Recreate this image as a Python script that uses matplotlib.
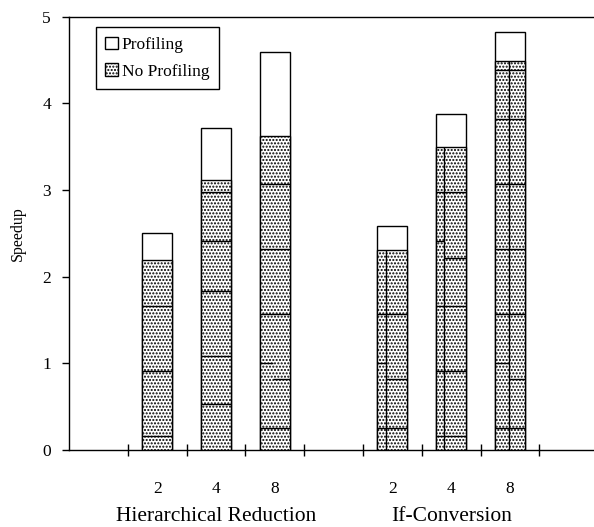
import numpy as np
import matplotlib
matplotlib.use("Agg")
import matplotlib.pyplot as plt
from matplotlib.patches import Patch

plt.rcParams['font.family'] = ['Liberation Serif', 'DejaVu Serif']
plt.rcParams['hatch.linewidth'] = 1.0

#%% data
groups = ["Hierarchical Reduction", "If-Conversion"]
procs = ["2", "4", "8"]

profiling = [2.50, 3.71, 4.59, 2.59, 3.88, 4.82]
no_profiling = [2.19, 3.12, 3.62, 2.31, 3.50, 4.49]

# internal segment boundaries drawn inside the No Profiling part
full_lines = [[0.16, 0.91, 1.66],
              [0.53, 1.09, 1.84, 2.41, 2.98],
              [0.25, 1.57, 2.32, 3.07],
              [0.25, 1.57],
              [0.16, 0.91, 1.66, 2.98],
              [0.25, 1.57, 2.32, 3.07, 3.82, 4.39]]
left_lines = [[], [], [1.00], [1.00], [2.41], [1.00]]
right_lines = [[], [], [0.82], [0.82], [2.22], [0.82]]
split = [None, None, 0.44, 0.30, 0.25, 0.47]
divider = [False, False, False, True, True, True]

#%% plot
BAR_W = 0.51
pos = np.array([1, 2, 3, 5, 6, 7])

fig = plt.figure(figsize=(5.94, 5.27), dpi=100)
ax = fig.add_axes([69/594, 77/527, 1 - 69/594, (450 - 16.7)/527])

ax.bar(pos, profiling, width=BAR_W, color='white', edgecolor='black', linewidth=1.0, zorder=2)
ax.bar(pos, no_profiling, width=BAR_W, color='white', edgecolor='black', linewidth=1.0,
       hatch='.....', zorder=3)

for i, p in enumerate(pos):
    x0 = p - BAR_W / 2
    x1 = p + BAR_W / 2
    ax.hlines(full_lines[i], x0, x1, colors='black', linewidth=1.0, zorder=4)
    if split[i] is not None:
        xs = x0 + split[i] * BAR_W
        ax.hlines(left_lines[i], x0, xs, colors='black', linewidth=1.0, zorder=4)
        ax.hlines(right_lines[i], xs, x1, colors='black', linewidth=1.0, zorder=4)
        if divider[i]:
            ax.vlines(xs, 0, no_profiling[i], colors='black', linewidth=1.0, zorder=4)

ax.set_xlim(-0.5, 8.43)
ax.set_ylim(0, 5)

ax.set_xticks(pos)
ax.set_xticklabels(procs * 2, fontsize=12.5)
ax.tick_params(axis='x', which='major', length=0, pad=22)
ax.set_xticks([0.5, 1.5, 2.5, 3.5, 4.5, 5.5, 6.5, 7.5], minor=True)
ax.tick_params(axis='x', which='minor', direction='inout', length=9, width=1.0)

ax.set_yticks([0, 1, 2, 3, 4, 5])
ax.tick_params(axis='y', direction='out', length=5, width=1.0, labelsize=12.5, pad=8)
ax.set_ylabel('Speedup', fontsize=11.5, labelpad=12)

ax.spines['right'].set_visible(False)
for s in ['left', 'top', 'bottom']:
    ax.spines[s].set_linewidth(1.0)

for g, c in zip(groups, [2, 6]):
    ax.text(c, -0.163, g, transform=ax.get_xaxis_transform(), ha='center', va='baseline',
            fontsize=15.5)

handles = [Patch(facecolor='white', edgecolor='black', linewidth=1.0, label='Profiling'),
           Patch(facecolor='white', edgecolor='black', linewidth=1.0, hatch='.....', label='No Profiling')]
leg = ax.legend(handles=handles, loc='upper left', bbox_to_anchor=(0.051, 0.976),
                borderaxespad=0, fancybox=False, edgecolor='black', framealpha=1,
                fontsize=12.5, handlelength=0.75, handleheight=0.75, handletextpad=0.2,
                labelspacing=0.6, borderpad=0.55)
leg.get_frame().set_linewidth(1.0)

fig.savefig('out.png', dpi=100)
